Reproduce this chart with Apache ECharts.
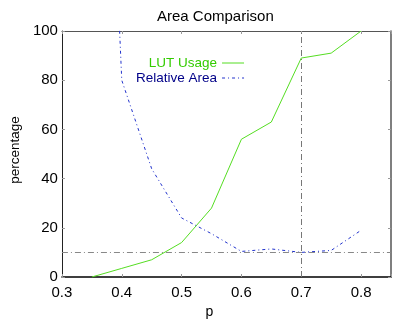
<!DOCTYPE html>
<html><head><meta charset="utf-8">
<script src="https://cdn.jsdelivr.net/npm/echarts@6/dist/echarts.min.js"></script>
<style>html,body{margin:0;padding:0;background:#fff}#c{width:400px;height:334px}</style>
</head><body><div id="c"></div>
<script>
const pValues = [0.35, 0.40, 0.45, 0.50, 0.55, 0.60, 0.65, 0.70, 0.75, 0.80];
const lutUsage = [0, 3.5, 7, 14, 28, 56, 63, 89, 91, 100];
const relativeArea = [360, 80, 44, 24, 17.6, 10.4, 11.4, 10, 10.8, 19];
const xTicks = [0.3, 0.4, 0.5, 0.6, 0.7, 0.8];
const yTicks = [0, 20, 40, 60, 80, 100];
const refY = 10;
const refX = 0.7;

const font = 'Liberation Sans, Helvetica, Arial, sans-serif';
const chart = echarts.init(document.getElementById('c'), null, {renderer: 'canvas'});
const pairs = (ys) => pValues.map((p, i) => [p, ys[i]]);
const dashDot = [6, 3, 1, 3];

const baseX = {type: 'value', min: 0.3, max: 0.85, interval: 0.1, splitLine: {show: false}};
const baseY = {type: 'value', min: 0, max: 100, interval: 20, splitLine: {show: false}};

chart.setOption({
  animation: false,
  backgroundColor: '#fff',
  title: {text: 'Area Comparison', left: 152, top: 4,
    textStyle: {fontFamily: font, fontSize: 15, fontWeight: 'normal', color: '#000'}},
  grid: {left: 55, right: 9, top: 31, bottom: 57},
  legend: {
    orient: 'vertical', align: 'right', left: 136, top: 56, itemGap: 1,
    itemWidth: 22, itemHeight: 14, padding: 0,
    itemStyle: {opacity: 0, borderWidth: 0},
    lineStyle: {width: 1},
    textStyle: {fontFamily: font, fontSize: 13.5},
    data: [
      {name: 'LUT Usage', textStyle: {color: '#33cc00'}},
      {name: 'Relative Area', textStyle: {color: '#000088'}}
    ]
  },
  xAxis: [
    Object.assign({}, baseX, {
      position: 'bottom', name: 'p', nameLocation: 'middle', nameGap: 26,
      nameTextStyle: {fontFamily: font, fontSize: 14, color: '#000', padding: [0, 34, 0, 0]},
      axisLine: {show: true, onZero: false, lineStyle: {color: '#000', width: 1.5}},
      axisTick: {inside: true, length: 3, lineStyle: {color: '#999'}},
      axisLabel: {fontFamily: font, fontSize: 15, color: '#000', margin: 8,
        formatter: v => (xTicks.some(t => Math.abs(t - v) < 1e-9) ? v.toFixed(1) : '')}
    }),
    Object.assign({}, baseX, {
      position: 'top',
      axisLine: {show: true, onZero: false, lineStyle: {color: '#555', width: 1}},
      axisTick: {inside: true, length: 3, lineStyle: {color: '#999'}},
      axisLabel: {show: false}
    })
  ],
  yAxis: [
    Object.assign({}, baseY, {
      position: 'left', name: 'percentage', nameLocation: 'middle', nameGap: 36,
      nameRotate: 90,
      nameTextStyle: {fontFamily: font, fontSize: 13.5, color: '#000', padding: [0, 0, 0, 8]},
      axisLine: {show: true, onZero: false, lineStyle: {color: '#222', width: 1}},
      axisTick: {inside: true, length: 3, lineStyle: {color: '#999'}},
      axisLabel: {fontFamily: font, fontSize: 15, color: '#000', margin: 4,
        formatter: v => (yTicks.includes(v) ? String(v) : '')}
    }),
    Object.assign({}, baseY, {
      position: 'right',
      axisLine: {show: true, onZero: false, lineStyle: {color: '#555', width: 1.5}},
      axisTick: {inside: true, length: 3, lineStyle: {color: '#999'}},
      axisLabel: {show: false}
    })
  ],
  series: [
    {
      name: 'LUT Usage', type: 'line', data: pairs(lutUsage),
      showSymbol: false, symbol: 'none', clip: true,
      lineStyle: {color: '#55dd22', width: 1}, itemStyle: {color: '#55dd22'},
      markLine: {
        silent: true, symbol: 'none', label: {show: false},
        data: [
          {yAxis: refY, lineStyle: {color: '#888', type: dashDot, width: 1}},
          {xAxis: refX, lineStyle: {color: '#777', type: dashDot, width: 1}}
        ]
      }
    },
    {
      name: 'Relative Area', type: 'line', data: pairs(relativeArea),
      showSymbol: false, symbol: 'none', clip: true,
      lineStyle: {color: '#2233cc', width: 1, type: [3, 3, 1, 3]},
      itemStyle: {color: '#2233cc'}
    }
  ]
});
</script></body></html>
